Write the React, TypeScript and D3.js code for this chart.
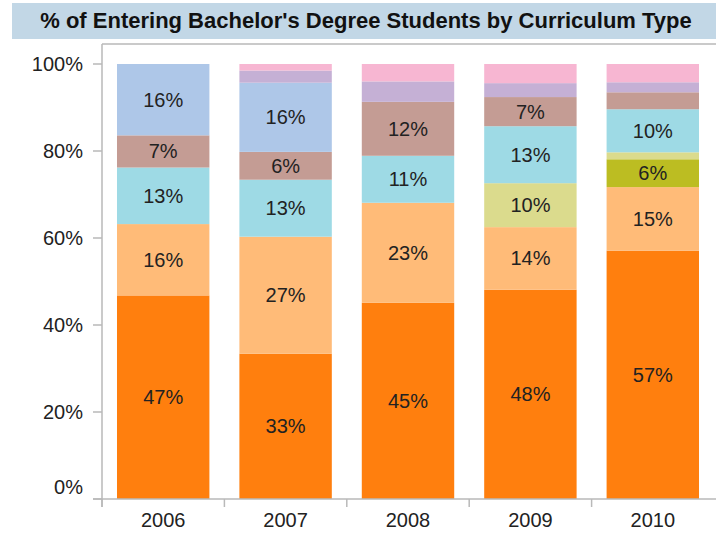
import React from 'react'
import * as d3 from 'd3'

// years on the x axis
const years = ['2006', '2007', '2008', '2009', '2010']

// curriculum series, bottom to top of each stack (% of entering students)
const seriesNames = ['c1', 'c2', 'c3', 'c4', 'c5', 'c6', 'c7', 'c8', 'c9']
const c1 = [46.8, 33.4, 45.1, 48.1, 57.1]
const c2 = [16.4, 26.9, 23.0, 14.4, 14.6]
const c3 = [0, 0, 0, 0, 6.4]
const c4 = [0, 0, 0, 10.1, 1.6]
const c5 = [13.0, 13.1, 10.8, 13.1, 9.9]
const c6 = [7.4, 6.4, 12.4, 6.7, 3.9]
const c7 = [16.4, 15.9, 0, 0, 0]
const c8 = [0, 2.8, 4.7, 3.2, 2.3]
const c9 = [0, 1.5, 4.0, 4.4, 4.2]
const seriesColors = ['#ff7f0e', '#ffbb78', '#bcbd22', '#dbdb8d', '#9edae5', '#c49c94', '#aec7e8', '#c5b0d5', '#f7b6d2']

const yTicks = [0, 20, 40, 60, 80, 100]
const title = "% of Entering Bachelor's Degree Students by Curriculum Type"

export default function App() {
  const width = 716
  const height = 533
  const margin = { top: 64, right: 2, bottom: 34, left: 102 }
  const font = 'Arial, "Liberation Sans", sans-serif'
  const axisColor = '#b9b9b9'

  const allSeries = [c1, c2, c3, c4, c5, c6, c7, c8, c9]
  const rows = years.map((year, i) => {
    const row: any = { year }
    seriesNames.forEach((name, j) => { row[name] = allSeries[j][i] })
    return row
  })
  const stacked = d3.stack().keys(seriesNames)(rows)

  const x = d3.scaleBand()
    .domain(years)
    .range([margin.left, width - margin.right])
    .paddingInner(0.245)
    .paddingOuter(0.1225)

  const y = d3.scaleLinear()
    .domain([0, 100])
    .range([height - margin.bottom, margin.top])

  const baseY = y(0)
  const step = x.step()
  const bandStart = x.range()[0]

  return (
    <svg width={width} height={height} style={{ position: 'absolute', left: 0, top: 0 }}>
      <rect x={12} y={3} width={width - 12} height={36} fill="#c2d7e6" />
      <text x={366} y={28} textAnchor="middle" fontFamily={font} fontWeight="bold" fontSize={22} fill="#111">
        {title}
      </text>

      {/* frame and axes */}
      <line x1={margin.left} x2={width} y1={44} y2={44} stroke={axisColor} strokeWidth={1.5} />
      <line x1={margin.left} x2={margin.left} y1={44} y2={baseY + 8} stroke={axisColor} strokeWidth={1.5} />

      {yTicks.map(t => (
        <g key={t}>
          <line x1={margin.left - 9} x2={margin.left} y1={y(t)} y2={y(t)} stroke={axisColor} strokeWidth={1.5} />
          <text x={83} y={t === 0 ? y(t) - 12 : y(t)} dy="0.35em" textAnchor="end" fontFamily={font} fontSize={20} fill="#222">
            {t}%
          </text>
        </g>
      ))}

      {stacked.map((layer, j) => (
        <g key={layer.key} fill={seriesColors[j]}>
          {layer.map((d, i) => (
            d[1] - d[0] > 0 ? (
              <rect key={i} x={x(years[i])} y={y(d[1])} width={x.bandwidth()} height={y(d[0]) - y(d[1])} />
            ) : null
          ))}
        </g>
      ))}

      {stacked.map(layer => (
        <g key={'lbl' + layer.key}>
          {layer.map((d, i) => (
            d[1] - d[0] >= 5 ? (
              <text key={i} x={(x(years[i]) as number) + x.bandwidth() / 2} y={y((d[0] + d[1]) / 2)} dy="0.35em"
                textAnchor="middle" fontFamily={font} fontSize={20} fill="#222">
                {Math.round(d[1] - d[0])}%
              </text>
            ) : null
          ))}
        </g>
      ))}

      <line x1={margin.left - 9} x2={width} y1={baseY} y2={baseY} stroke={axisColor} strokeWidth={1.5} />
      {years.map((yr, i) => (
        <g key={yr}>
          <line x1={bandStart + i * step} x2={bandStart + i * step} y1={baseY} y2={baseY + 8} stroke={axisColor} strokeWidth={1.5} />
          <text x={(x(yr) as number) + x.bandwidth() / 2} y={baseY + 28} textAnchor="middle" fontFamily={font} fontSize={20} fill="#222">
            {yr}
          </text>
        </g>
      ))}
    </svg>
  )
}
